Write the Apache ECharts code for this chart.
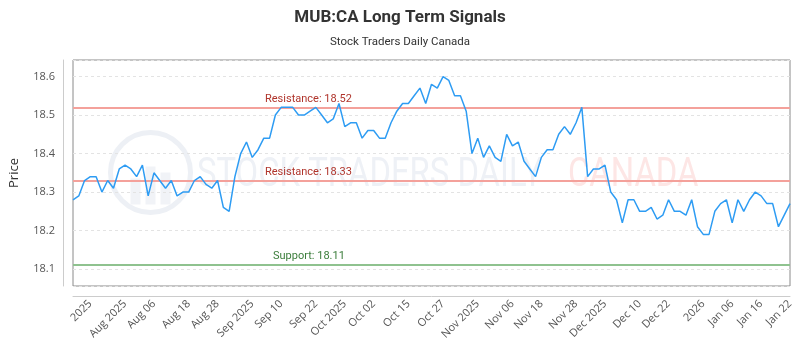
<!DOCTYPE html>
<html lang="en">
<head>
    <meta charset="UTF-8">
    <title>MUB:CA Long Term Signals</title>
    <script type="text/javascript" src="https://cdn.jsdelivr.net/npm/echarts@6/dist/echarts.min.js"></script>
    <style>
        html, body { margin: 0; padding: 0; background: #fff; }
    </style>
</head>
<body>
<div id="main" style="width: 800px;height: 350px"></div>
<script type="text/javascript">
    // closing prices, one per trading session
    var prices = [
        18.28, 18.29, 18.33, 18.34, 18.34, 18.30, 18.33, 18.31, 18.36, 18.37,
        18.36, 18.34, 18.37, 18.29, 18.35, 18.33, 18.31, 18.33, 18.29, 18.30,
        18.30, 18.33, 18.34, 18.32, 18.31, 18.33, 18.26, 18.25, 18.34, 18.40,
        18.43, 18.39, 18.41, 18.44, 18.44, 18.50, 18.52, 18.52, 18.52, 18.50,
        18.50, 18.51, 18.52, 18.50, 18.48, 18.49, 18.53, 18.47, 18.48, 18.48,
        18.44, 18.46, 18.46, 18.44, 18.44, 18.48, 18.51, 18.53, 18.53, 18.55,
        18.57, 18.53, 18.58, 18.57, 18.60, 18.59, 18.55, 18.55, 18.51, 18.40,
        18.44, 18.39, 18.42, 18.39, 18.38, 18.45, 18.42, 18.43, 18.38, 18.36,
        18.34, 18.39, 18.41, 18.41, 18.45, 18.47, 18.45, 18.48, 18.52, 18.34,
        18.36, 18.36, 18.37, 18.30, 18.28, 18.22, 18.28, 18.28, 18.25, 18.25,
        18.26, 18.23, 18.24, 18.28, 18.25, 18.25, 18.24, 18.28, 18.21, 18.19,
        18.19, 18.25, 18.27, 18.28, 18.22, 18.28, 18.25, 18.28, 18.30, 18.29,
        18.27, 18.27, 18.21, 18.24, 18.27
    ];
    var tickLabels = ['2025', 'Aug 2025', 'Aug 06', 'Aug 18', 'Aug 28', 'Sep 2025', 'Sep 10', 'Sep 22',
        'Oct 2025', 'Oct 02', 'Oct 15', 'Oct 27', 'Nov 2025', 'Nov 06', 'Nov 18', 'Nov 28',
        'Dec 2025', 'Dec 10', 'Dec 22', '2026', 'Jan 06', 'Jan 16', 'Jan 22'];
    // session index each tick label sits on
    var labelAt = [3, 9, 14, 20, 25, 31, 36, 42, 47, 52, 58, 64, 70, 76, 81, 87, 92, 98, 103, 109, 114, 119, 124];
    var resistance = [18.52, 18.33];
    var support = [18.11];

    var categories = prices.map(function (p, i) { return String(i); });

    var lines = [];
    resistance.forEach(function (v) {
        lines.push({
            yAxis: v,
            lineStyle: {color: '#f4a19b', width: 2, type: 'solid'},
            label: {formatter: 'Resistance: ' + v.toFixed(2), color: '#b0352c', distance: [192, 3]}
        });
    });
    support.forEach(function (v) {
        lines.push({
            yAxis: v,
            lineStyle: {color: '#8fc28f', width: 2, type: 'solid'},
            label: {formatter: 'Support: ' + v.toFixed(2), color: '#3b7d3b', distance: [200, 3]}
        });
    });

    var myChart = echarts.init(document.getElementById('main'));
    var option = {
        backgroundColor: '#fff',
        animation: false,
        title: {
            text: 'MUB:CA Long Term Signals',
            subtext: 'Stock Traders Daily Canada',
            left: 'center',
            top: 4,
            itemGap: 10,
            textStyle: {fontFamily: 'Roboto', fontSize: 17, fontWeight: 'bold', color: '#333'},
            subtextStyle: {fontFamily: 'Roboto', fontSize: 11.5, color: '#333'}
        },
        graphic: [
            {
                type: 'group', left: 108, top: 130, silent: true, z: 0,
                children: [
                    {type: 'circle', shape: {cx: 40, cy: 42, r: 40}, style: {fill: 'rgba(0,0,0,0)', stroke: '#edf0f5', lineWidth: 5}},
                    {type: 'rect', shape: {x: 20, y: 48, width: 10, height: 26}, style: {fill: '#f1f3f7'}},
                    {type: 'rect', shape: {x: 35, y: 36, width: 10, height: 38}, style: {fill: '#f1f3f7'}},
                    {type: 'rect', shape: {x: 50, y: 42, width: 10, height: 32}, style: {fill: '#f1f3f7'}}
                ]
            },
            {
                type: 'text', left: 197, top: 156, silent: true, z: 0, scaleX: 0.82,
                style: {text: 'STOCK TRADERS DAILY', fontFamily: 'Roboto', fontSize: 40, fill: '#eef1f6'}
            },
            {
                type: 'text', left: 568, top: 156, silent: true, z: 0, scaleX: 0.82,
                style: {text: 'CANADA', fontFamily: 'Roboto', fontSize: 40, fill: '#fde6e5'}
            }
        ],
        grid: {
            left: 71, right: 10, top: 60, bottom: 64,
            show: true, borderColor: '#8a8a8a', borderWidth: 1
        },
        xAxis: {
            type: 'category',
            data: categories,
            boundaryGap: false,
            offset: 10,
            axisLine: {show: true, lineStyle: {color: '#cccccc'}},
            axisTick: {show: false},
            splitLine: {show: false},
            axisLabel: {
                rotate: 45,
                margin: 6,
                fontFamily: 'Open Sans',
                fontSize: 11,
                color: '#555',
                hideOverlap: false,
                interval: function (i) { return labelAt.indexOf(i) >= 0; },
                formatter: function (v, i) { return tickLabels[labelAt.indexOf(i)]; }
            }
        },
        yAxis: {
            type: 'value',
            min: 18.056,
            max: 18.643,
            offset: 10,
            name: 'Price',
            nameLocation: 'middle',
            nameGap: 42,
            nameTextStyle: {fontFamily: 'Open Sans', fontSize: 13, color: '#333'},
            axisLine: {show: true, lineStyle: {color: '#cccccc'}},
            axisTick: {show: false},
            axisLabel: {
                showMinLabel: false, showMaxLabel: false,
                fontFamily: 'Open Sans', fontSize: 11, color: '#555', margin: 8,
                formatter: function (v) { return v.toFixed(1); }
            },
            splitLine: {lineStyle: {color: '#e3e3e3', type: [3, 3]}}
        },
        series: [
            {
                name: 'MUB:CA',
                type: 'line',
                data: prices,
                showSymbol: false,
                z: 3,
                lineStyle: {color: '#2e9cf3', width: 1.5},
                itemStyle: {color: '#2e9cf3'},
                markLine: {
                    silent: true,
                    symbol: 'none',
                    z: 2,
                    label: {position: 'insideStartTop', fontFamily: 'Roboto', fontSize: 11},
                    data: lines
                }
            }
        ]
    };
    myChart.setOption(option);
</script>
</body>
</html>
